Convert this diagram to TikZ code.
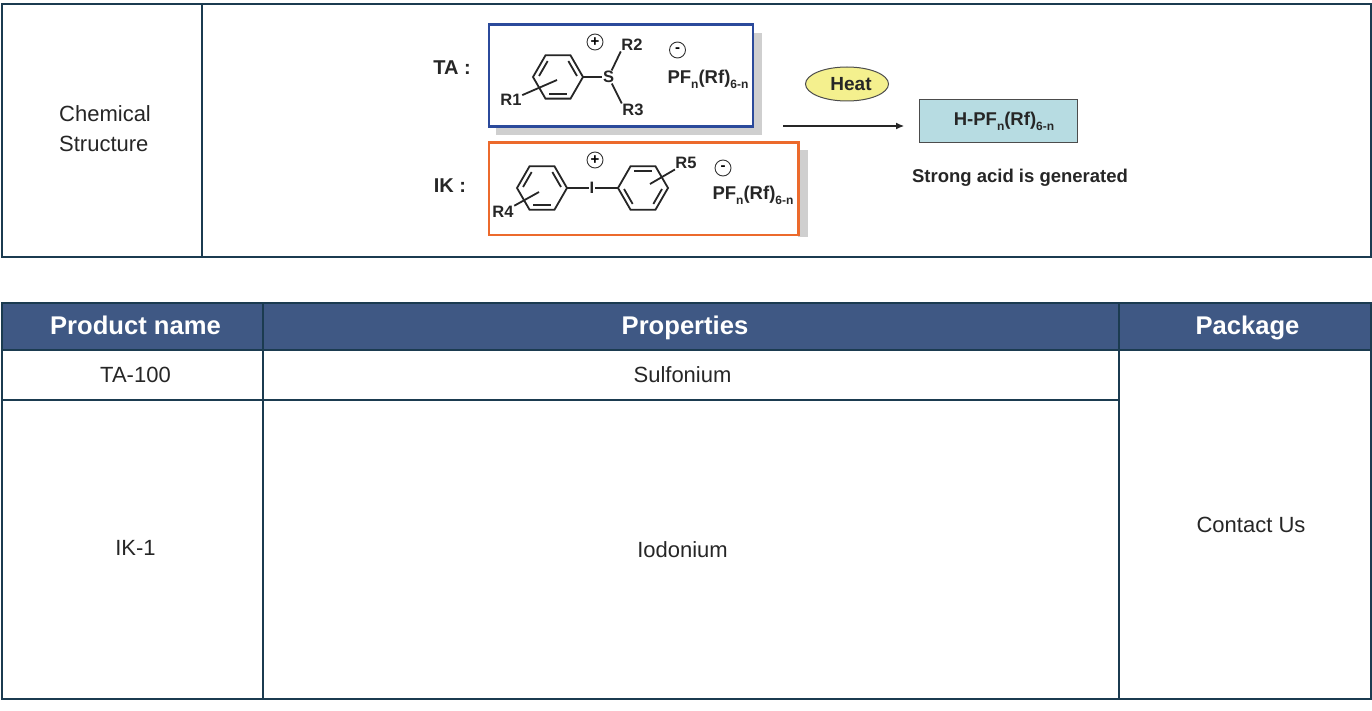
\documentclass[tikz,border=0pt]{standalone}
\usepackage{fontspec}
\setmainfont{Liberation Sans}
\newfontfamily\chemfont{Liberation Sans}
\usetikzlibrary{shapes.geometric, arrows.meta, positioning, calc}

\definecolor{tableline}{HTML}{1B3B50}
\definecolor{headblue}{HTML}{3F5884}
\definecolor{boxblue}{HTML}{2B4A9B}
\definecolor{boxorange}{HTML}{EC6A2C}
\definecolor{shadowgrey}{HTML}{CFCFCF}
\definecolor{heatyellow}{HTML}{F4F08E}
\definecolor{acidblue}{HTML}{B7DCE2}

% ring: name, centre, start angle of the double bonds
\newcommand{\phenyl}[3]{
   \coordinate (#1) at (#2);
   \draw[bond] ($(#1)+(0:25)$) -- ($(#1)+(60:25)$) -- ($(#1)+(120:25)$) -- ($(#1)+(180:25)$)
      -- ($(#1)+(240:25)$) -- ($(#1)+(300:25)$) -- cycle;
   \foreach \a in {0,120,240} {
      \draw[bond] ($(#1)+(#3+\a+3:19)$) -- ($(#1)+(#3+\a+57:19)$);
   }
}
\newcommand{\lowsub}[1]{\raisebox{-0.5ex}{\fontsize{12}{12}\selectfont #1}}

\begin{document}
\begin{tikzpicture}[
      x=1pt, y=-1pt,
      grid/.style={draw=tableline, line width=1.8pt},
      cell/.style={font=\fontsize{22}{30}\selectfont, text=black!85, inner sep=0pt},
      headcell/.style={font=\fontsize{25.6}{28}\selectfont\bfseries, text=white, inner sep=0pt, anchor=base},
      bond/.style={draw=black!85, line width=1.8pt},
      chem/.style={font=\chemfont\fontsize{16.5}{18}\selectfont\bfseries, text=black!85, inner sep=0.5pt},
      anion/.style={chem, font=\chemfont\fontsize{18.5}{20}\selectfont\bfseries},
      charge/.style={draw=black!80, circle, line width=0.9pt, minimum size=16pt, inner sep=0pt,
         font=\chemfont\fontsize{15}{15}\selectfont\bfseries},
      title/.style={font=\chemfont\fontsize{20}{22}\selectfont\bfseries, text=black!85, inner sep=0pt}
   ]
      \useasboundingbox (0,0) rectangle (1372,711);

      % upper table
      \draw[grid] (2,4) rectangle (1371,257);
      \draw[grid] (202,4) -- (202,257);
      \node[cell, align=left, anchor=west] (chemical) at (59,128.5) {Chemical\\Structure};

      % TA box
      \fill[shadowgrey] (496,33) rectangle (762,135);
      \draw[boxblue, fill=white, line width=2.4pt] (489,24.5) rectangle (753,126.5);
      \node[title] (ta) at (452,68) {TA :};
      \phenyl{ringa}{558,77}{60}
      \node[chem] (s) at (608.5,77) {S};
      \node[chem] (r1) at (511,100) {R1};
      \node[chem] (r2) at (632,45) {R2};
      \node[chem] (r3) at (633,110) {R3};
      \node[charge] (plusa) at (595,42) {+};
      \node[charge] (minusa) at (677.5,50) {-};
      \node[anion] (aniona) at (708,79) {PF\lowsub{n}(Rf)\lowsub{6-n}};
      \draw[bond] (ringa)++(0:25) -- (s);
      \draw[bond] (s) -- (r2.south west);
      \draw[bond] (s) -- (r3.north west);
      \coordinate (r1end) at (557,80);
      \draw[bond] (r1) -- (r1end);

      % IK box
      \fill[shadowgrey] (798,150) rectangle (808,237);
      \draw[boxorange, fill=white, line width=2.4pt] (489,142.5) rectangle (798.5,235);
      \node[title] (ik) at (450,186) {IK :};
      \phenyl{ringb}{542,188}{60}
      \phenyl{ringc}{643,188}{0}
      \node[chem] (i) at (592,188) {I};
      \node[chem] (r4) at (503,212) {R4};
      \node[chem] (r5) at (686,163) {R5};
      \node[charge] (plusb) at (595,160) {+};
      \node[charge] (minusb) at (723,168) {-};
      \node[anion] (anionb) at (753,195) {PF\lowsub{n}(Rf)\lowsub{6-n}};
      \draw[bond] (ringb)++(0:25) -- (i);
      \draw[bond] (i) -- ($(ringc)+(180:25)$);
      \coordinate (r4end) at (539,192);
      \coordinate (r5end) at (650,184);
      \draw[bond] (r4) -- (r4end);
      \draw[bond] (r5) -- (r5end);

      % reaction
      \node[draw=black!70, fill=heatyellow, ellipse, line width=1pt, minimum width=83pt, minimum height=34pt,
         inner sep=0pt, anion, font=\chemfont\fontsize{19}{20}\selectfont\bfseries] (heat) at (847,84) {\hspace{8pt}Heat};
      \node[draw=black!70, fill=acidblue, line width=1pt, minimum width=158pt, minimum height=43pt,
         inner sep=0pt, anion] (acid) at (998,121.5) {\hspace{12pt}H-PF\lowsub{n}(Rf)\lowsub{6-n}};
      \coordinate (arrowstart) at (783,126);
      \coordinate (arrowend) at (904,126);
      \draw[-{Latex[length=8pt,width=7pt]}, black!85, line width=1.1pt] (arrowstart) -- (arrowend);
      \node[anion] (strong) at (1020,178) {Strong acid is generated};

      % lower table
      \fill[headblue] (2,303) rectangle (1371,350);
      \draw[grid] (2,303) rectangle (1371,699);
      \draw[grid] (2,350) -- (1371,350);
      \draw[grid] (2,400) -- (1119,400);
      \draw[grid] (262.7,303) -- (262.7,699);
      \draw[grid] (1119,303) -- (1119,699);

      \node[headcell] (product) at (135.5,334) {Product name};
      \node[headcell] (properties) at (685,334) {Properties};
      \node[headcell] (package) at (1247.5,334) {Package};
      \node[cell] (ta100) at (135.5,374.5) {TA-100};
      \node[cell] (sulfonium) at (682.5,374.5) {Sulfonium};
      \node[cell] (ik1) at (135.5,548) {IK-1};
      \node[cell] (iodonium) at (682.5,549.5) {Iodonium};
      \node[cell] (contact) at (1251,524.5) {Contact Us};
   \end{tikzpicture}
\end{document}
